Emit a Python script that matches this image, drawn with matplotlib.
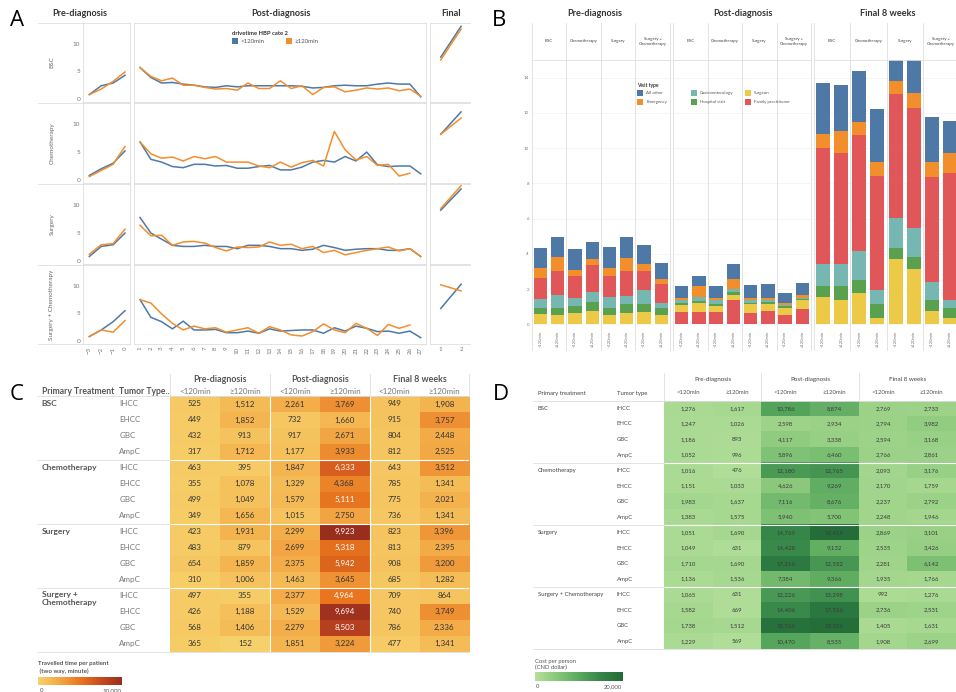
import matplotlib

matplotlib.use("Agg")
import matplotlib.pyplot as plt
import numpy as np
from matplotlib.colors import LinearSegmentedColormap, Normalize
from matplotlib.lines import Line2D
from matplotlib.patches import Rectangle

plt.rcParams["font.family"] = ["Lato", "DejaVu Sans"]

W, H = 956, 692

TREATMENTS = ["BSC", "Chemotherapy", "Surgery", "Surgery + Chemotherapy"]
B_TREATMENT_HEADERS = ["BSC", "Chemotherapy", "Surgery", "Surgery +\nChemotherapy"]
GROUPS = ["<120min", "≥120min"]
PHASES = ["Pre-diagnosis", "Post-diagnosis", "Final 8 weeks"]
TUMOR_TYPES = ["IHCC", "EHCC", "GBC", "AmpC"]

# ---- panel A: visits per period, one list per treatment (BSC, Chemo, Surgery, S+C)
A_PRE_X = [-3, -2, -1, 0]
A_POST_X = list(range(1, 28))
A_FINAL_X = [1, 2]

A_PRE_LT = [
    [0.8, 2.4, 2.9, 4.3],
    [0.8, 2.0, 3.0, 5.2],
    [0.8, 2.6, 2.9, 5.0],
    [0.8, 2.0, 3.5, 5.5],
]
A_PRE_GE = [
    [0.8, 1.8, 3.2, 4.9],
    [0.6, 1.7, 2.8, 6.0],
    [1.2, 2.9, 3.1, 5.7],
    [0.8, 2.0, 1.6, 3.7],
]
A_POST_LT = [
    [5.7, 3.9, 2.9, 3.0, 2.7, 2.5, 2.2, 2.1, 2.4, 2.2, 2.4, 2.4, 2.4, 2.4,
     2.4, 2.3, 2.0, 2.1, 2.4, 2.5, 2.4, 2.4, 2.7, 2.9, 2.7, 2.7, 0.4],
    [6.8, 3.7, 3.2, 2.4, 2.2, 2.8, 2.8, 2.5, 2.6, 2.1, 2.1, 2.4, 2.6, 1.8,
     1.8, 2.3, 3.2, 3.5, 3.2, 4.2, 3.4, 5.0, 2.7, 2.4, 2.5, 2.5, 1.1],
    [7.8, 5.0, 3.9, 2.8, 2.6, 2.6, 2.8, 2.6, 2.6, 2.2, 2.8, 2.8, 2.6, 2.2,
     2.2, 1.9, 2.1, 2.8, 2.4, 1.9, 2.1, 2.2, 2.2, 1.9, 1.9, 2.2, 0.8],
    [7.5, 4.3, 3.5, 2.2, 3.6, 2.0, 2.0, 2.1, 1.5, 1.5, 1.8, 1.4, 2.2, 1.8,
     1.9, 2.0, 2.0, 1.4, 2.4, 1.8, 2.7, 2.3, 1.7, 1.8, 1.4, 1.8, 0.6],
]
A_POST_GE = [
    [5.7, 4.1, 3.3, 3.8, 2.5, 2.5, 2.1, 1.8, 1.9, 1.6, 2.9, 1.9, 1.9, 3.3,
     1.9, 2.4, 0.8, 2.1, 2.2, 1.3, 1.6, 2.0, 1.8, 2.0, 1.5, 1.8, 0.5],
    [6.8, 4.7, 3.9, 4.1, 3.4, 4.2, 3.8, 4.2, 3.2, 3.2, 3.2, 2.5, 2.2, 3.2,
     2.3, 3.1, 3.5, 2.5, 8.7, 5.4, 3.6, 4.2, 2.6, 2.8, 0.7, 1.2],
    [6.4, 4.5, 4.6, 2.8, 3.4, 3.5, 3.2, 2.4, 1.8, 2.5, 2.4, 2.5, 3.4, 2.8,
     3.0, 2.2, 2.6, 1.5, 1.9, 1.1, 1.5, 1.9, 2.2, 2.5, 1.8, 2.2, 0.8],
    [7.5, 6.9, 4.9, 3.2, 2.0, 2.7, 2.2, 2.4, 1.6, 2.0, 2.4, 1.4, 2.6, 2.0,
     1.1, 0.9, 1.7, 3.1, 2.0, 1.5, 3.2, 2.3, 1.0, 3.0, 2.3, 2.9],
]
A_FINAL_LT = [[7.6, 13.2], [8.2, 12.2], [9.1, 12.9], [5.9, 10.3]]
A_FINAL_GE = [[7.1, 12.7], [8.2, 11.1], [9.4, 13.5], [10.2, 9.1]]

# ---- panel B: visits per person by visit type, 8 bars per phase (pre, post, final)
VISIT_TYPES = ["All other", "Emergency", "Gastroenterology", "Hospital visit",
               "Surgeon", "Family practitioner"]
B_SURGEON = [0.57, 0.51, 0.66, 0.76, 0.55, 0.66, 0.70, 0.51,
             0.42, 0.51, 0.32, 0.33, 0.48, 0.40, 0.42, 0.51,
             1.55, 1.40, 1.80, 0.36, 3.73, 3.16, 0.76, 0.36]
B_HOSPITAL = [0.38, 0.40, 0.36, 0.51, 0.40, 0.51, 0.44, 0.44,
              0.09, 0.10, 0.12, 0.15, 0.09, 0.11, 0.09, 0.05,
              0.63, 0.78, 0.70, 0.78, 0.63, 0.67, 0.60, 0.59]
B_GASTRO = [0.51, 0.74, 0.48, 0.55, 0.60, 0.42, 0.83, 0.28,
            0.19, 0.24, 0.26, 0.19, 0.17, 0.15, 0.10, 0.05,
            1.23, 1.23, 1.67, 0.83, 1.68, 1.66, 1.05, 0.45]
B_FAMILY = [1.17, 1.36, 1.23, 1.53, 1.18, 1.44, 1.04, 1.06,
            0.70, 0.70, 0.70, 1.36, 0.66, 0.74, 0.51, 0.89,
            6.61, 6.32, 6.59, 6.44, 7.03, 6.76, 5.96, 7.16]
B_EMERGENCY = [0.57, 0.82, 0.37, 0.34, 0.47, 0.74, 0.42, 0.30,
               0.12, 0.63, 0.10, 0.56, 0.10, 0.10, 0.11, 0.15,
               0.78, 1.24, 0.74, 0.81, 0.74, 0.86, 0.82, 1.19]
B_OTHER = [1.16, 1.15, 1.16, 1.01, 1.19, 1.17, 1.06, 0.89,
           0.66, 0.55, 0.68, 0.82, 0.72, 0.77, 0.57, 0.70,
           2.91, 2.61, 2.89, 2.98, 2.20, 2.50, 2.55, 1.80]

# ---- panel C: travelled time per patient (minutes), rows = treatment x tumour
C_VALUES = [
    [525, 1512, 2261, 3769, 949, 1908],
    [449, 1852, 732, 1660, 915, 3757],
    [432, 913, 917, 2671, 804, 2448],
    [317, 1712, 1177, 3933, 812, 2525],
    [463, 395, 1847, 6333, 643, 3512],
    [355, 1078, 1329, 4368, 785, 1341],
    [499, 1049, 1579, 5111, 775, 2021],
    [349, 1656, 1015, 2750, 736, 1341],
    [423, 1931, 2299, 9923, 823, 3396],
    [483, 879, 2699, 5318, 813, 2395],
    [654, 1859, 2375, 5942, 908, 3200],
    [310, 1006, 1463, 3645, 685, 1282],
    [497, 355, 2377, 4964, 709, 864],
    [426, 1188, 1529, 9694, 740, 3749],
    [568, 1406, 2279, 8503, 786, 2336],
    [365, 152, 1851, 3224, 477, 1341],
]

# ---- panel D: cost per person (CND dollar)
D_VALUES = [
    [1276, 1617, 10786, 8874, 2769, 2733],
    [1247, 1026, 2598, 2934, 2794, 3982],
    [1186, 893, 4117, 3338, 2594, 3168],
    [1052, 996, 5896, 6460, 2766, 2861],
    [1016, 476, 12180, 12765, 2093, 3176],
    [1151, 1033, 4626, 9269, 2170, 1759],
    [1983, 1637, 7116, 8676, 2237, 2792],
    [1383, 1575, 5940, 5700, 2248, 1946],
    [1051, 1690, 14769, 19419, 2869, 3101],
    [1049, 631, 14428, 9132, 2535, 3426],
    [1710, 1690, 17216, 12552, 2281, 6142],
    [1136, 1536, 7384, 9366, 1935, 1766],
    [1065, 631, 12226, 13298, 992, 1276],
    [1582, 669, 14406, 17526, 2736, 2531],
    [1738, 1512, 18526, 19316, 1405, 1631],
    [1229, 569, 10470, 8535, 1908, 2699],
]

BLUE = "#4e79a7"
ORANGE = "#f28e2b"
VISIT_COLORS = {
    "All other": "#4e79a7",
    "Emergency": "#f28e2b",
    "Gastroenterology": "#76b7b2",
    "Hospital visit": "#59a14f",
    "Surgeon": "#edc948",
    "Family practitioner": "#e15759",
}
FRAME = "#dedede"
HEAD = "#333333"

fig = plt.figure(figsize=(W / 100, H / 100), dpi=100)


def px_axes(x0, y0, x1, y1):
    return fig.add_axes([x0 / W, 1 - y1 / H, (x1 - x0) / W, (y1 - y0) / H])


def px_text(x, y, s, **kw):
    kw.setdefault("va", "center")
    fig.text(x / W, 1 - y / H, s, **kw)


def px_line(x0, y0, x1, y1, color=FRAME, lw=0.6):
    fig.add_artist(Line2D([x0 / W, x1 / W], [1 - y0 / H, 1 - y1 / H],
                          color=color, lw=lw))


def px_rect(x, y, w, h, color):
    fig.add_artist(Rectangle((x / W, 1 - (y + h) / H), w / W, h / H,
                             transform=fig.transFigure, color=color, lw=0))


for letter, x, y in [("A", 10, 20), ("B", 492, 20), ("C", 10, 395), ("D", 493, 395)]:
    px_text(x, y, letter, fontsize=16, family=["Open Sans", "DejaVu Sans"])

# ================= panel A =================
A_ROWS = [(23, 102), (103, 183), (184, 264), (265, 344)]
A_YLIM = (-0.55, 13.8)
A_PANELS = [
    ((83, 130), (-3.53, 0.42), A_PRE_X, A_PRE_LT, A_PRE_GE),
    ((134, 426), (0.44, 27.49), A_POST_X, A_POST_LT, A_POST_GE),
    ((430, 470), (0.47, 2.44), A_FINAL_X, A_FINAL_LT, A_FINAL_GE),
]
for label, x in [("Pre-diagnosis", 80), ("Post-diagnosis", 281), ("Final", 451)]:
    px_text(x, 13, label, ha="center", fontsize=6.6, fontweight="bold", color=HEAD)

for r, (y0, y1) in enumerate(A_ROWS):
    last = r == len(A_ROWS) - 1
    for c, ((x0, x1), xlim, xs, lt, ge) in enumerate(A_PANELS):
        ax = px_axes(x0, y0, x1, y1)
        ax.plot(xs[:len(lt[r])], lt[r], color=BLUE, lw=1.1)
        ax.plot(xs[:len(ge[r])], ge[r], color=ORANGE, lw=1.1)
        ax.set_xlim(*xlim)
        ax.set_ylim(*A_YLIM)
        for spine in ax.spines.values():
            spine.set_color(FRAME)
            spine.set_linewidth(0.6)
        if c == 2:
            ax.spines["right"].set_visible(False)
        if c == 0:
            ax.set_yticks([0, 5, 10])
            ax.tick_params(axis="y", length=0, pad=2, labelsize=4.6, labelcolor="#777777")
        else:
            ax.set_yticks([])
        if last:
            ax.set_xticks(xs)
            ax.tick_params(axis="x", length=0, pad=2, labelsize=4.4,
                           labelcolor="#777777", labelrotation=0 if c == 2 else 90)
        else:
            ax.set_xticks([])
    px_line(38, y0, 83, y0)
    px_text(52, (y0 + y1) / 2, TREATMENTS[r], rotation=90, ha="center",
            fontsize=4.6, color="#666666")
px_line(38, 344, 83, 344)

px_text(232, 33.5, "drivetime HBP cate 2", fontsize=4.2, fontweight="bold", color=HEAD)
px_rect(231.7, 38, 6, 5.6, BLUE)
px_text(240.7, 41.2, GROUPS[0], fontsize=4.4, color="#555555")
px_rect(285.7, 38, 6, 5.6, ORANGE)
px_text(294.7, 41.2, GROUPS[1], fontsize=4.4, color="#555555")

# ================= panel B =================
B_SECTIONS = [(531.7, 670), (673, 811), (814, 959)]
B_TOP, B_BOTTOM = 60, 327
B_YLIM = (-0.15, 15)
STACK_PRE = [B_SURGEON, B_HOSPITAL, B_GASTRO, B_FAMILY, B_EMERGENCY, B_OTHER]
STACK_POST = [B_FAMILY, B_SURGEON, B_HOSPITAL, B_GASTRO, B_EMERGENCY, B_OTHER]
STACK_COLORS_PRE = ["Surgeon", "Hospital visit", "Gastroenterology",
                    "Family practitioner", "Emergency", "All other"]
STACK_COLORS_POST = ["Family practitioner", "Surgeon", "Hospital visit",
                     "Gastroenterology", "Emergency", "All other"]

for label, x in [("Pre-diagnosis", 595), ("Post-diagnosis", 743), ("Final 8 weeks", 888)]:
    px_text(x, 13, label, ha="center", fontsize=6.6, fontweight="bold", color=HEAD)

for s, (x0, x1) in enumerate(B_SECTIONS):
    ax = px_axes(x0, B_TOP, x1, B_BOTTOM)
    stack = STACK_POST if s == 1 else STACK_PRE
    names = STACK_COLORS_POST if s == 1 else STACK_COLORS_PRE
    positions = np.arange(8)
    bottom = np.zeros(8)
    for series, name in zip(stack, names):
        vals = np.array(series[s * 8:(s + 1) * 8])
        ax.bar(positions, vals, width=0.77, bottom=bottom,
               color=VISIT_COLORS[name], linewidth=0)
        bottom += vals
    ax.set_xlim(-0.5, 7.5)
    ax.set_ylim(*B_YLIM)
    ax.set_yticks(range(0, 15, 2))
    ax.grid(axis="y", color="#f3f3f3", lw=0.5)
    ax.set_axisbelow(True)
    for name, spine in ax.spines.items():
        spine.set_visible(name == "top")
        spine.set_color(FRAME)
        spine.set_linewidth(0.6)
    if s == 0:
        ax.tick_params(axis="y", length=0, pad=2, labelsize=3.2, labelcolor="#777777")
    else:
        ax.tick_params(axis="y", length=0, labelleft=False)
    ax.set_xticks(positions)
    ax.set_xticklabels(GROUPS * 4)
    ax.tick_params(axis="x", length=0, pad=3, labelsize=3, labelcolor="#777777",
                   labelrotation=90)
    trans = ax.get_xaxis_transform()
    for xv in [-0.5, 1.5, 3.5, 5.5, 7.5]:
        ax.plot([xv, xv], [-0.086, 1.139], transform=trans, color=FRAME,
                lw=0.6, clip_on=False)
    for k, header in enumerate(B_TREATMENT_HEADERS):
        ax.text(2 * k + 0.5, 1.07, header, transform=trans, ha="center",
                va="center", fontsize=3.2, color="#444444", linespacing=1.3)

legend_items = [("All other", 637.3, 90), ("Emergency", 637.3, 99.3),
                ("Gastroenterology", 691, 90), ("Hospital visit", 691, 99.3),
                ("Surgeon", 745, 90), ("Family practitioner", 745, 99.3)]
px_text(637.3, 86, "Visit type", fontsize=3.6, fontweight="bold", color=HEAD)
for name, x, y in legend_items:
    px_rect(x, y, 5.8, 5.8, VISIT_COLORS[name])
    px_text(x + 9, y + 3, name, fontsize=3.2, color="#555555")

# ================= panels C and D: heat tables =================
C_CMAP = LinearSegmentedColormap.from_list(
    "orange_gold", ["#f7d26c", "#f3aa46", "#e9761f", "#c84b1e", "#9a2e1f"])
D_CMAP = LinearSegmentedColormap.from_list(
    "greens", ["#b5e09b", "#88c77a", "#5aa95f", "#358549", "#226b38"])


def heat_table(values, cmap, vmax, cells, row_label_x, group_label_x,
               frame_left, cfg):
    x0, y0, x1, y1 = cells
    data = np.array(values, dtype=float)
    ax = px_axes(x0, y0, x1, y1)
    ax.imshow(data, cmap=cmap, norm=Normalize(0, vmax), aspect="auto",
              extent=(0, 6, 16, 0), interpolation="nearest")
    ax.set_xlim(0, 6)
    ax.set_ylim(16, 0)
    ax.axis("off")
    for i in range(16):
        for j in range(6):
            v = data[i, j]
            color = "white" if v > cfg["white_above"] else cfg["text_color"]
            ax.text(j + 0.5, i + 0.5, f"{int(v):,}", ha="center", va="center",
                    fontsize=cfg["cell_size"], color=color)
    for b in [4, 8, 12]:
        ax.axhline(b, color="white", lw=0.8)
    for b in cfg["col_gaps"]:
        ax.axvline(b, color="white", lw=0.8)

    row_h = (y1 - y0) / 16
    col_w = (x1 - x0) / 6
    for g in range(4):
        top = y0 + g * 4 * row_h
        px_line(frame_left, top, x0 if g else x1, top)
        for t, tumor in enumerate(TUMOR_TYPES):
            px_text(row_label_x, top + (t + 0.5) * row_h, tumor,
                    fontsize=cfg["cell_size"], color=cfg["label_color"])
        label = cfg["group_labels"][g]
        multiline = "\n" in label
        px_text(group_label_x,
                top + 0.5 * row_h - (cfg["group_shift"] if multiline else 0),
                label, va="top" if multiline else "center",
                fontsize=cfg["group_size"], fontweight=cfg["group_weight"],
                color=cfg["group_color"], linespacing=1.1)
    px_line(frame_left, y1, x1, y1)

    for p, phase in enumerate(PHASES):
        px_line(x0 + 2 * p * col_w, cfg["head_top"], x0 + 2 * p * col_w, y0)
        px_text(x0 + (2 * p + 1) * col_w, cfg["phase_y"], phase, ha="center",
                fontsize=cfg["head_size"], fontweight=cfg["head_weight"],
                color=cfg["group_color"])
        for k, grp in enumerate(GROUPS):
            px_text(x0 + (2 * p + k + 0.5) * col_w, cfg["sub_y"], grp,
                    ha="center", fontsize=cfg["cell_size"], color=cfg["label_color"])
    px_line(x1, cfg["head_top"], x1, y0)
    px_text(group_label_x, cfg["sub_y"], cfg["col1"], fontsize=cfg["head_size"] - 0.2,
            fontweight=cfg["head_weight"], color=cfg["group_color"])
    px_text(row_label_x, cfg["sub_y"], cfg["col2"], fontsize=cfg["head_size"] - 0.2,
            fontweight=cfg["head_weight"], color=cfg["group_color"])


heat_table(
    C_VALUES, C_CMAP, 10000, (170, 396, 469.3, 651.7), 119.3, 41.7, 37,
    {
        "white_above": 4900, "text_color": "#333333", "label_color": "#777777",
        "cell_size": 5.8, "group_size": 6.0, "group_weight": "bold",
        "group_color": "#555555", "group_shift": 4.5, "head_size": 6.4,
        "head_weight": "bold", "head_top": 374, "phase_y": 379, "sub_y": 391,
        "col_gaps": [2, 4], "col1": "Primary Treatment", "col2": "Tumor Type..",
        "group_labels": ["BSC", "Chemotherapy", "Surgery", "Surgery +\nChemotherapy"],
    },
)
heat_table(
    D_VALUES, D_CMAP, 20000, (664, 400.7, 956, 649), 616.7, 537.7, 533,
    {
        "white_above": 1e9, "text_color": "#3a3a3a", "label_color": "#555555",
        "cell_size": 4.3, "group_size": 4.3, "group_weight": "normal",
        "group_color": "#444444", "group_shift": 4.0, "head_size": 4.5,
        "head_weight": "normal", "head_top": 373, "phase_y": 379, "sub_y": 393,
        "col_gaps": [], "col1": "Primary treatment", "col2": "Tumor type",
        "group_labels": TREATMENTS,
    },
)

# colour legends
gradient = np.linspace(0, 1, 256)[None, :]
cax = px_axes(38, 677, 121, 685)
cax.imshow(gradient, cmap=C_CMAP, aspect="auto")
cax.axis("off")
px_text(38, 664, "Travelled time per patient", fontsize=4.4, fontweight="bold", color="#555555")
px_text(38, 671.5, " (two way, minute)", fontsize=4.4, fontweight="bold", color="#555555")
px_text(40, 690.5, "0", fontsize=4.4, color="#555555")
px_text(121, 690.5, "10,000", ha="right", fontsize=4.4, color="#555555")

dax = px_axes(535, 672, 622, 681)
dax.imshow(gradient, cmap=D_CMAP, aspect="auto")
dax.axis("off")
px_text(535, 661.7, "Cost per person", fontsize=4.2, color="#555555")
px_text(535, 667.3, "(CND dollar)", fontsize=4.2, color="#555555")
px_text(536, 686.5, "0", fontsize=4.2, color="#555555")
px_text(622, 686.5, "20,000", ha="right", fontsize=4.2, color="#555555")

fig.savefig("out.png", dpi=100)
